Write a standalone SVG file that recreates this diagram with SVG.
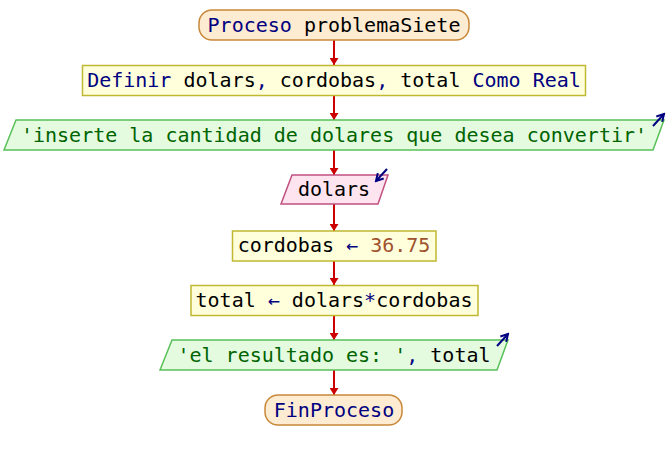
<svg xmlns="http://www.w3.org/2000/svg" width="668" height="460" viewBox="0 0 668 460">
  <defs>
    <marker id="flow" markerWidth="7" markerHeight="9" refX="7" refY="4.5" orient="auto" markerUnits="userSpaceOnUse" viewBox="0 0 7 9">
      <path d="M0,0 L7,4.5 L0,9 Z" fill="#cc0000"/>
    </marker>
    <marker id="io" markerWidth="10" markerHeight="10" refX="8" refY="5" orient="auto" markerUnits="userSpaceOnUse" viewBox="0 0 10 10">
      <path d="M1,1 L8,5 L1,9" fill="none" stroke="#000080" stroke-width="2"/>
    </marker>
    <style>
      text { font-family: "DejaVu Sans Mono", "Liberation Mono", monospace; font-size: 20px; text-anchor: middle; fill: #000000; }
      .kw { fill: #000080; }
      .str { fill: #006400; }
      .num { fill: #a0522d; }
      .term { fill: #fdebd2; stroke: #c8883a; stroke-width: 1.5; }
      .proc { fill: #ffffdc; stroke: #c0b830; stroke-width: 1.5; }
      .out { fill: #e4fbe0; stroke: #58c058; stroke-width: 1.5; }
      .in { fill: #fde4ee; stroke: #c05080; stroke-width: 1.5; }
      .edge { stroke: #cc0000; stroke-width: 2; fill: none; }
      .ioarrow { stroke: #000080; stroke-width: 2; fill: none; }
    </style>
  </defs>

  <g id="connectors">
    <line class="edge" x1="334" y1="40" x2="334" y2="65" marker-end="url(#flow)"/>
    <line class="edge" x1="334" y1="95" x2="334" y2="120" marker-end="url(#flow)"/>
    <line class="edge" x1="334" y1="150" x2="334" y2="175" marker-end="url(#flow)"/>
    <line class="edge" x1="334" y1="204" x2="334" y2="231" marker-end="url(#flow)"/>
    <line class="edge" x1="334" y1="261" x2="334" y2="285" marker-end="url(#flow)"/>
    <line class="edge" x1="334" y1="315" x2="334" y2="340" marker-end="url(#flow)"/>
    <line class="edge" x1="334" y1="370" x2="334" y2="395" marker-end="url(#flow)"/>
  </g>

  <g id="inicio">
    <rect class="term" x="199" y="10" width="270" height="30" rx="13" ry="13"/>
    <text x="334" y="32"><tspan class="kw">Proceso</tspan> problemaSiete</text>
  </g>

  <g id="definir">
    <rect class="proc" x="82.5" y="65.5" width="503" height="30"/>
    <text x="334" y="87"><tspan class="kw">Definir</tspan> dolars<tspan class="kw">,</tspan> cordobas<tspan class="kw">,</tspan> total <tspan class="kw">Como Real</tspan></text>
  </g>

  <g id="escribir1">
    <polygon class="out" points="16,120 664,120 653,150 4,150"/>
    <line class="ioarrow" x1="653" y1="126" x2="664" y2="114" marker-end="url(#io)"/>
    <text x="334" y="142" class="str">'inserte la cantidad de dolares que desea convertir'</text>
  </g>

  <g id="leer">
    <polygon class="in" points="292,175 388,175 378,204 281,204"/>
    <line class="ioarrow" x1="387" y1="169" x2="376" y2="181" marker-end="url(#io)"/>
    <text x="334" y="196">dolars</text>
  </g>

  <g id="asignar1">
    <rect class="proc" x="232.5" y="231" width="203.5" height="30"/>
    <text x="334" y="252">cordobas <tspan class="kw">←</tspan> <tspan class="num">36.75</tspan></text>
  </g>

  <g id="asignar2">
    <rect class="proc" x="191" y="285.5" width="287" height="30"/>
    <text x="334" y="307">total <tspan class="kw">←</tspan> dolars<tspan class="kw">*</tspan>cordobas</text>
  </g>

  <g id="escribir2">
    <polygon class="out" points="172,340 508,340 497,370 160,370"/>
    <line class="ioarrow" x1="497" y1="346" x2="508" y2="334" marker-end="url(#io)"/>
    <text x="334" y="362"><tspan class="str">'el resultado es: '</tspan><tspan class="kw">,</tspan> total</text>
  </g>

  <g id="fin">
    <rect class="term" x="265" y="395" width="137" height="30" rx="13" ry="13"/>
    <text x="334" y="417" class="kw">FinProceso</text>
  </g>
</svg>
